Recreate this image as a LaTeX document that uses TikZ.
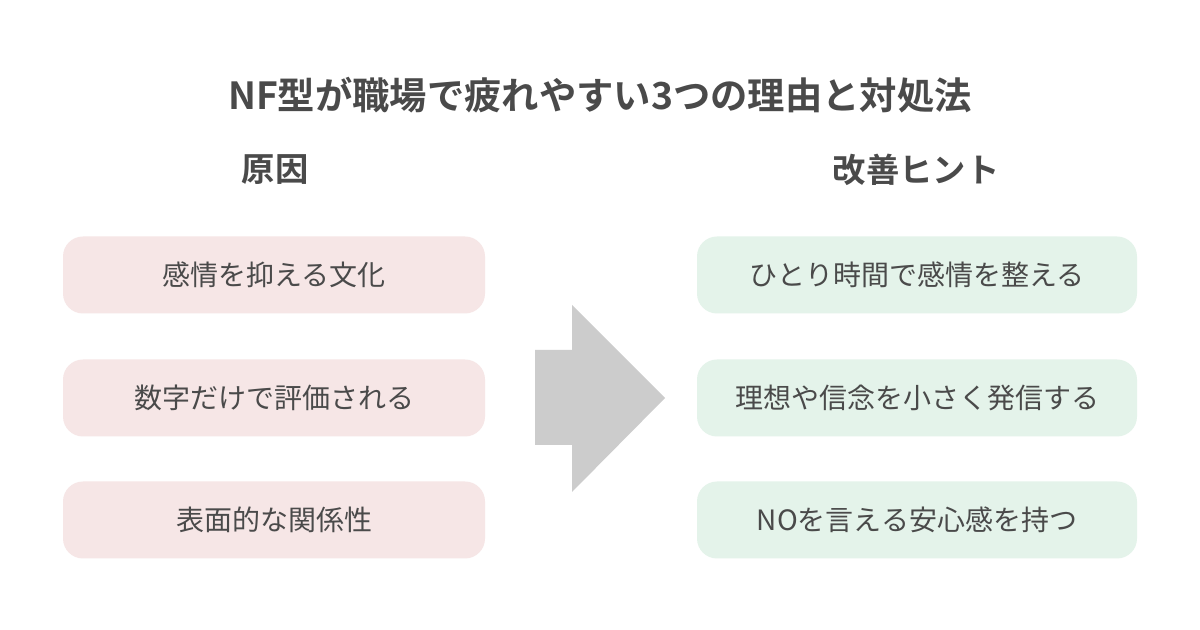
\documentclass[tikz,border=0pt]{standalone}
\usepackage{fontspec}
\setmainfont{Noto Sans CJK JP}
\newfontfamily\boldjp{Noto Sans CJK JP Bold}
\definecolor{txt}{HTML}{4A4A4A}
\definecolor{pinkbg}{HTML}{F6E6E6}
\definecolor{greenbg}{HTML}{E4F3EA}
\definecolor{arr}{HTML}{CCCCCC}
\begin{document}
\begin{tikzpicture}[x=0.75pt,y=-0.75pt,
  box/.style={rounded corners=15pt,minimum width=316.5pt,minimum height=57.75pt,inner sep=0pt,font=\fontsize{21}{24}\selectfont,text=txt},
  lbox/.style={box,fill=pinkbg},
  rbox/.style={box,fill=greenbg,minimum width=330pt},
  hdr/.style={font=\boldjp\fontsize{25}{28}\selectfont,text=txt}]
\fill[white] (0,0) rectangle (1200,630);
\useasboundingbox (0,0) rectangle (1200,630);
\node[font=\boldjp\fontsize{28}{32}\selectfont,text=txt] (title) at (600,95) {NF型が職場で疲れやすい3つの理由と対処法};
\node[hdr] (h1) at (275,170) {原因};
\node[hdr] (h2) at (916,170) {改善ヒント};
\node[lbox] (l1) at (274,275) {感情を抑える文化};
\node[lbox] (l2) at (274,398) {数字だけで評価される};
\node[lbox] (l3) at (274,520) {表面的な関係性};
\node[rbox] (r1) at (917,275) {ひとり時間で感情を整える};
\node[rbox] (r2) at (917,398) {理想や信念を小さく発信する};
\node[rbox] (r3) at (917,520) {NOを言える安心感を持つ};
\fill[arr] (535,350) -- (572,350) -- (572,305) -- (665,398) -- (572,492) -- (572,445) -- (535,445) -- cycle;
\end{tikzpicture}
\end{document}
